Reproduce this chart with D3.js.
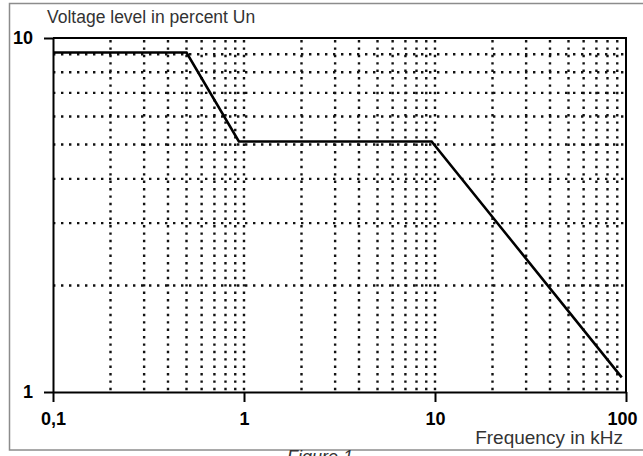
<!DOCTYPE html>
<html>
<head>
<meta charset="utf-8">
<script src="https://cdn.jsdelivr.net/npm/d3@7"></script>
<style>
  html, body { margin: 0; padding: 0; background: #fff; }
  svg { display: block; }
  text { font-family: "Liberation Sans", Arial, sans-serif; }
</style>
</head>
<body>
<svg id="chart" width="643" height="456"></svg>
<script>
// ---- data ----
const freqKHz = [0.1, 0.5, 0.94, 9.6, 95];
const levelPct = [9.1, 9.1, 5.1, 5.1, 1.1];
const xTicks = [0.1, 1, 10, 100];
const xTickLabels = ["0,1", "1", "10", "100"];
const yTicks = [1, 10];
const yTickLabels = ["1", "10"];
const xGrid = [0.2, 0.3, 0.4, 0.5, 0.6, 0.7, 0.8, 0.9, 1, 2, 3, 4, 5, 6, 7, 8, 9, 10, 20, 30, 40, 50, 60, 70, 80, 90];
const yGrid = [2, 3, 4, 5, 6, 7, 8, 9];
const yTitle = "Voltage level in percent Un";
const xTitle = "Frequency in kHz";
const caption = "Figure 1";

// ---- layout ----
const L = 53, R = 626, T = 38, B = 392;
const svg = d3.select("#chart");

const x = d3.scaleLog().domain([0.1, 100]).range([L, R]);
const y = d3.scaleLog().domain([1, 10]).range([B, T]);

// outer figure frame
svg.append("rect")
  .attr("x", 9.5).attr("y", 3.5).attr("width", 660).attr("height", 446.5)
  .attr("fill", "none").attr("stroke", "#8c8c8c").attr("stroke-width", 1.5);

// grid
const g = svg.append("g");
g.selectAll("line.vg").data(xGrid).join("line")
  .attr("class", "vg")
  .attr("x1", d => x(d)).attr("x2", d => x(d))
  .attr("y1", T + 2).attr("y2", B)
  .attr("stroke", "#111").attr("stroke-width", 2.4)
  .attr("stroke-dasharray", "2.4,5");
g.selectAll("line.hg").data(yGrid).join("line")
  .attr("class", "hg")
  .attr("x1", L).attr("x2", R)
  .attr("y1", d => y(d)).attr("y2", d => y(d))
  .attr("stroke", "#111").attr("stroke-width", 2.4)
  .attr("stroke-dasharray", "2.4,5.6");

// axes
const xAxis = d3.axisBottom(x).tickValues(xTicks).tickSize(10).tickSizeOuter(0)
  .tickPadding(10).tickFormat((d, i) => xTickLabels[i]);
const gx = svg.append("g").attr("transform", `translate(0,${B})`).call(xAxis);
gx.select(".domain").attr("stroke", "#000").attr("stroke-width", 2);
gx.selectAll(".tick line").attr("stroke", "#000").attr("stroke-width", 2);
gx.selectAll(".tick text").attr("fill", "#000").attr("font-size", 18).attr("font-weight", "bold")
  .attr("font-family", "Liberation Sans, Arial, sans-serif");
gx.selectAll(".tick text").filter((d, i) => i === xTicks.length - 1).attr("dx", -4);

const yAxis = d3.axisLeft(y).tickValues(yTicks).tickSize(9).tickSizeOuter(0)
  .tickPadding(11).tickFormat((d, i) => yTickLabels[i]);
const gy = svg.append("g").attr("transform", `translate(${L},0)`).call(yAxis);
gy.select(".domain").attr("stroke", "#000").attr("stroke-width", 2);
gy.selectAll(".tick line").attr("stroke", "#000").attr("stroke-width", 2);
gy.selectAll(".tick text").attr("fill", "#000").attr("font-size", 18).attr("font-weight", "bold")
  .attr("font-family", "Liberation Sans, Arial, sans-serif");

// top and right border
svg.append("line").attr("x1", L).attr("x2", R + 1).attr("y1", y(10)).attr("y2", y(10))
  .attr("stroke", "#000").attr("stroke-width", 2);
svg.append("line").attr("x1", x(100)).attr("x2", x(100)).attr("y1", T).attr("y2", B)
  .attr("stroke", "#000").attr("stroke-width", 2);

// data line
const line = d3.line().x(d => x(d[0])).y(d => y(d[1]));
svg.append("path")
  .datum(freqKHz.map((f, i) => [f, levelPct[i]]))
  .attr("d", line)
  .attr("fill", "none").attr("stroke", "#000").attr("stroke-width", 2.6)
  .attr("stroke-linejoin", "miter");

// titles
svg.append("text").attr("x", 47).attr("y", 23).attr("font-size", 17.5).attr("fill", "#333")
  .text(yTitle);
svg.append("text").attr("x", 623).attr("y", 444).attr("text-anchor", "end")
  .attr("font-size", 19).attr("fill", "#333").text(xTitle);
svg.append("text").attr("x", 287).attr("y", 463).attr("font-size", 18)
  .attr("font-style", "italic").attr("fill", "#333").text(caption);
</script>
</body>
</html>
